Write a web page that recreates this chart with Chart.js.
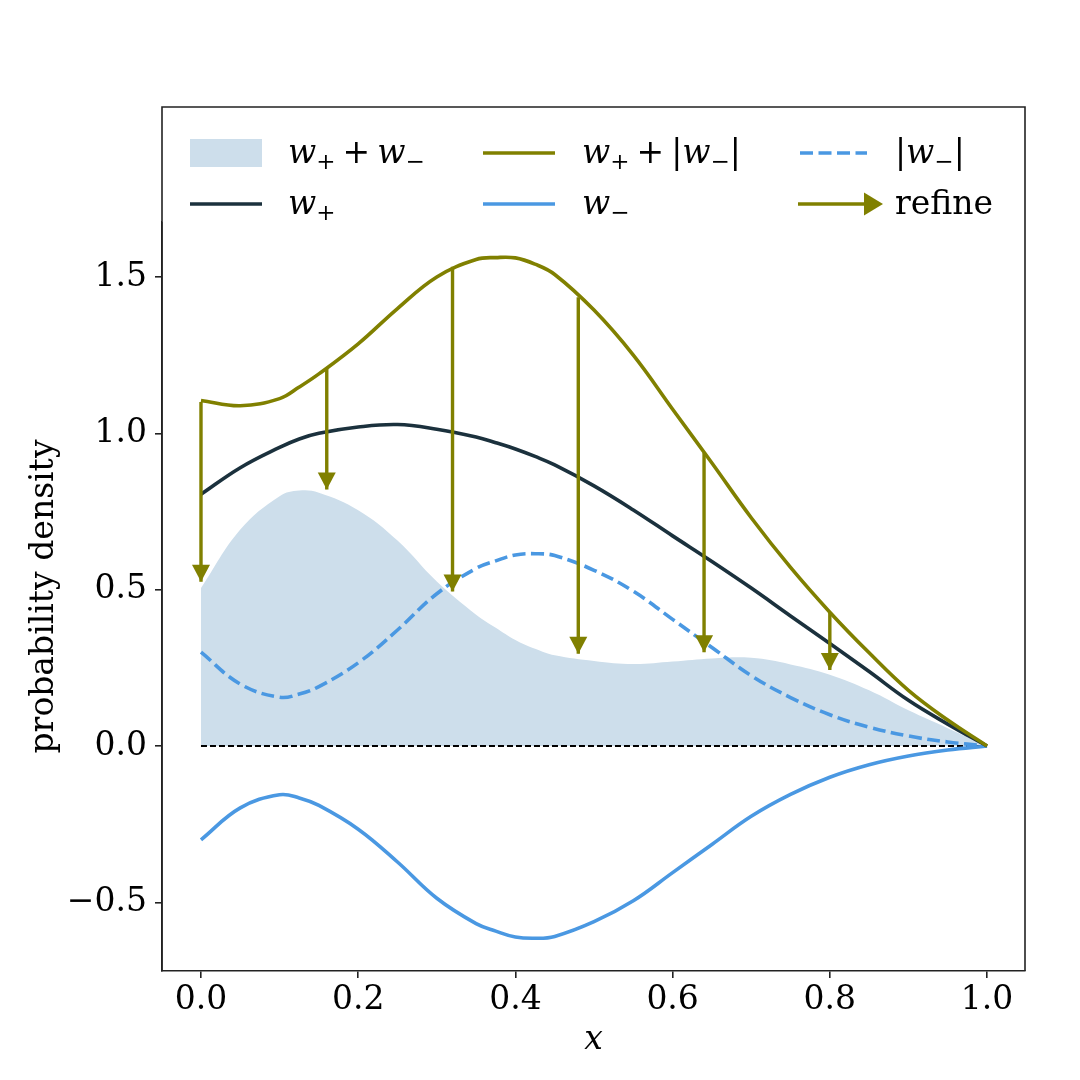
<!DOCTYPE html>
<html>
<head>
<meta charset="utf-8">
<script src="https://cdn.jsdelivr.net/npm/chart.js@4.4.1/dist/chart.umd.min.js"></script>
<style>
  html, body { margin: 0; padding: 0; background: #fff; }
  #wrap { width: 1080px; height: 1080px; }
</style>
</head>
<body>
<div id="wrap"><canvas id="canvas" width="1080" height="1080"></canvas></div>
<script>

let xs = [0, 0.05, 0.1, 0.125, 0.15, 0.2, 0.25, 0.3, 0.35, 0.375, 0.4, 0.425, 0.45, 0.5,
          0.55, 0.6, 0.65, 0.7, 0.75, 0.8, 0.85, 0.9, 0.95, 1.0];

let wPlus     = [0.805, 0.890, 0.955, 0.982, 1.000, 1.020, 1.028, 1.013, 0.988, 0.970, 0.950, 0.926, 0.899, 0.832,
                 0.755, 0.672, 0.590, 0.505, 0.416, 0.328, 0.238, 0.146, 0.070, 0];
let wMinus    = [-0.300, -0.198, -0.156, -0.166, -0.190, -0.266, -0.371, -0.487, -0.568, -0.592, -0.611, -0.615, -0.609, -0.562,
                 -0.495, -0.405, -0.315, -0.225, -0.155, -0.100, -0.060, -0.032, -0.013, 0];
let wSumAbs   = [1.105, 1.088, 1.111, 1.148, 1.190, 1.286, 1.399, 1.500, 1.556, 1.562, 1.561, 1.541, 1.508, 1.394,
                 1.250, 1.077, 0.905, 0.730, 0.571, 0.428, 0.298, 0.178, 0.083, 0];
let wAbsMinus = [0.300, 0.198, 0.156, 0.166, 0.190, 0.266, 0.371, 0.487, 0.568, 0.592, 0.611, 0.615, 0.609, 0.562,
                 0.495, 0.405, 0.315, 0.225, 0.155, 0.100, 0.060, 0.032, 0.013, 0];
let wSum      = [0.505, 0.692, 0.799, 0.817, 0.810, 0.754, 0.657, 0.526, 0.420, 0.378, 0.339, 0.311, 0.290, 0.272,
                 0.262, 0.270, 0.280, 0.282, 0.261, 0.228, 0.178, 0.114, 0.057, 0];

// refine arrows: from w+ + |w-| down to w+ + w-
let arrowX    = [0, 0.16, 0.32, 0.48, 0.64, 0.8];
let arrowFrom = [1.100, 1.208, 1.533, 1.435, 0.938, 0.427];
let arrowTo   = [0.525, 0.820, 0.494, 0.295, 0.300, 0.243];

let xTicks = [0, 0.2, 0.4, 0.6, 0.8, 1.0];
let yTicks = [-0.5, 0, 0.5, 1.0, 1.5];

let navy = '#1b313d';
let olive = '#808000';
let blue = '#4a98e2';
let fillBlue = '#cddeeb';
let axisColor = '#222';
let serif = "'DejaVu Serif', serif";
let lw = 3.6;
let dash = [13, 5.5];
let smooth = 0.4;


function toPoints(vals) {
  return xs.map((x, i) => ({x: x, y: vals[i]}));
}

function fmt(v) {
  return (v < 0 ? '\u2212' : '') + Math.abs(v).toFixed(1);
}

// small mathtext-like writer: w italic, subscripts smaller and lower
function drawMath(ctx, x, y, runs) {
  for (let r of runs) {
    let t = r[0], kind = r[1];
    let yy = y;
    if (kind == 'it') ctx.font = 'italic 33px ' + serif;
    else if (kind == 'sub') { ctx.font = '23px ' + serif; yy = y + 6; }
    else ctx.font = '33px ' + serif;
    if (kind == 'op') x += 7;
    ctx.fillText(t, x, yy);
    x += ctx.measureText(t).width;
    if (kind == 'op') x += 7;
  }
}

let arrowHeads = {
  id: 'arrowHeads',
  afterDatasetsDraw(chart) {
    let ctx = chart.ctx;
    ctx.save();
    ctx.fillStyle = olive;
    chart.data.datasets.forEach((ds, i) => {
      if (!ds.isArrow) return;
      let tip = chart.getDatasetMeta(i).data[1];
      ctx.beginPath();
      ctx.moveTo(tip.x, tip.y);
      ctx.lineTo(tip.x - 9, tip.y - 17);
      ctx.lineTo(tip.x + 9, tip.y - 17);
      ctx.closePath();
      ctx.fill();
    });
    ctx.restore();
  }
};

let legendBox = {
  id: 'legendBox',
  afterDraw(chart) {
    let ctx = chart.ctx;
    let a = chart.chartArea;
    let top = a.top - 115;
    let y1 = a.top - 69, y2 = a.top - 18;
    ctx.save();
    ctx.fillStyle = '#fff';
    ctx.fillRect(a.left, top, a.right - a.left, a.top - top);

    // frame round axes + legend
    ctx.strokeStyle = axisColor;
    ctx.lineWidth = 1.6;
    ctx.beginPath();
    ctx.moveTo(a.left, a.bottom);
    ctx.lineTo(a.left, top);
    ctx.lineTo(a.right, top);
    ctx.lineTo(a.right, a.bottom);
    ctx.stroke();

    // handles
    ctx.fillStyle = fillBlue;
    ctx.fillRect(a.left + 28, y1 - 14, 72, 28);

    ctx.lineWidth = lw;
    ctx.strokeStyle = navy;
    ctx.beginPath(); ctx.moveTo(a.left + 28, y2); ctx.lineTo(a.left + 100, y2); ctx.stroke();
    ctx.strokeStyle = olive;
    ctx.beginPath(); ctx.moveTo(a.left + 321, y1); ctx.lineTo(a.left + 393, y1); ctx.stroke();
    ctx.strokeStyle = blue;
    ctx.beginPath(); ctx.moveTo(a.left + 321, y2); ctx.lineTo(a.left + 393, y2); ctx.stroke();
    ctx.setLineDash(dash);
    ctx.beginPath(); ctx.moveTo(a.left + 638, y1); ctx.lineTo(a.left + 705, y1); ctx.stroke();
    ctx.setLineDash([]);

    ctx.strokeStyle = olive;
    ctx.fillStyle = olive;
    ctx.lineWidth = 3.4;
    ctx.beginPath(); ctx.moveTo(a.left + 636, y2); ctx.lineTo(a.left + 705, y2); ctx.stroke();
    ctx.beginPath();
    ctx.moveTo(a.left + 721, y2);
    ctx.lineTo(a.left + 702, y2 - 11.5);
    ctx.lineTo(a.left + 702, y2 + 11.5);
    ctx.closePath();
    ctx.fill();

    // labels
    ctx.fillStyle = '#000';
    ctx.textBaseline = 'alphabetic';
    ctx.textAlign = 'left';
    let c1 = a.left + 126, c2 = a.left + 420, c3 = a.left + 733;
    drawMath(ctx, c1, y1 + 10, [['w', 'it'], ['+', 'sub'], ['+', 'op'], ['w', 'it'], ['\u2212', 'sub']]);
    drawMath(ctx, c1, y2 + 10, [['w', 'it'], ['+', 'sub']]);
    drawMath(ctx, c2, y1 + 10, [['w', 'it'], ['+', 'sub'], ['+', 'op'], ['|', 'rm'], ['w', 'it'], ['\u2212', 'sub'], ['|', 'rm']]);
    drawMath(ctx, c2, y2 + 10, [['w', 'it'], ['\u2212', 'sub']]);
    drawMath(ctx, c3, y1 + 10, [['|', 'rm'], ['w', 'it'], ['\u2212', 'sub'], ['|', 'rm']]);
    drawMath(ctx, c3, y2 + 10, [['refine', 'rm']]);
    ctx.restore();
  }
};


// first dataset is drawn on top in Chart.js, so arrows go first
let datasets = [];
for (let i = 0; i < arrowX.length; i++) {
  datasets.push({
    isArrow: true,
    data: [{x: arrowX[i], y: arrowFrom[i]}, {x: arrowX[i], y: arrowTo[i]}],
    borderColor: olive,
    borderWidth: 3.4,
    pointRadius: 0
  });
}
datasets.push(
  { label: 'w+ + |w-|', data: toPoints(wSumAbs), borderColor: olive, borderWidth: lw, pointRadius: 0, tension: smooth },
  { label: 'w+', data: toPoints(wPlus), borderColor: navy, borderWidth: lw, pointRadius: 0, tension: smooth },
  { label: '|w-|', data: toPoints(wAbsMinus), borderColor: blue, borderWidth: lw, borderDash: dash, pointRadius: 0, tension: smooth },
  { label: 'w-', data: toPoints(wMinus), borderColor: blue, borderWidth: lw, pointRadius: 0, tension: smooth },
  { label: 'zero', data: [{x: 0, y: 0}, {x: 1, y: 0}], borderColor: '#000', borderWidth: 2, borderDash: [6, 3], pointRadius: 0 },
  { label: 'w+ + w-', data: toPoints(wSum), borderWidth: 0, borderColor: 'rgba(0,0,0,0)', backgroundColor: fillBlue, fill: 'origin', pointRadius: 0, tension: smooth }
);

let tickFont = { family: serif, size: 33 };

let options = {
  type: 'line',
  data: { datasets: datasets },
  options: {
    responsive: false,
    animation: false,
    devicePixelRatio: 1,
    layout: { padding: { top: 222, right: 55, left: 0, bottom: 0 } },
    plugins: {
      legend: { display: false },
      tooltip: { enabled: false }
    },
    scales: {
      x: {
        type: 'linear',
        min: -0.0496,
        max: 1.0483,
        afterBuildTicks: s => { s.ticks = xTicks.map(v => ({value: v})); },
        afterFit: s => { s.height = 109; },
        ticks: { font: tickFont, color: '#000', padding: 3, maxRotation: 0, autoSkip: false, callback: v => fmt(v) },
        grid: { display: true, drawOnChartArea: false, drawTicks: true, tickLength: 7, color: axisColor, lineWidth: 1.6 },
        border: { display: true, color: axisColor, width: 1.6 },
        title: { display: true, text: 'x', color: '#000', font: { family: serif, size: 33, style: 'italic' }, padding: { top: 0, bottom: 20 } }
      },
      y: {
        type: 'linear',
        min: -0.7196,
        max: 1.6758,
        afterBuildTicks: s => { s.ticks = yTicks.map(v => ({value: v})); },
        afterFit: s => { s.width = 162; },
        ticks: { font: tickFont, color: '#000', padding: 8, autoSkip: false, callback: v => fmt(v) },
        grid: { display: true, drawOnChartArea: false, drawTicks: true, tickLength: 7, color: axisColor, lineWidth: 1.6 },
        border: { display: true, color: axisColor, width: 1.6 },
        title: { display: true, text: 'probability density', color: '#000', font: { family: serif, size: 33 }, padding: { top: 25, bottom: 0 } }
      }
    }
  },
  plugins: [arrowHeads, legendBox]
};

let chart = new Chart(document.getElementById('canvas'), options);

</script>
</body>
</html>
